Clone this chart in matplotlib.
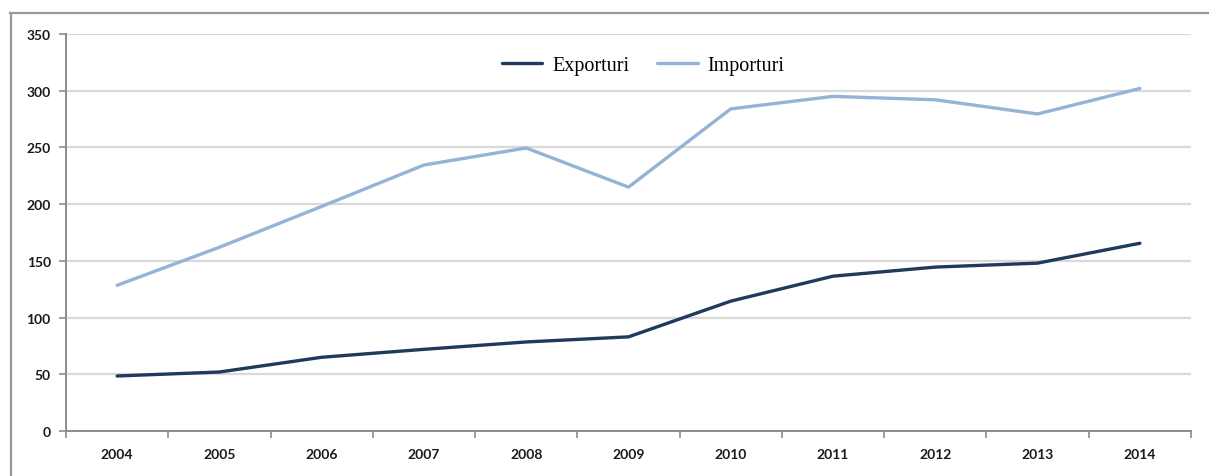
import matplotlib
matplotlib.use("Agg")
import matplotlib.pyplot as plt
from matplotlib.lines import Line2D

years = ["2004", "2005", "2006", "2007", "2008", "2009",
         "2010", "2011", "2012", "2013", "2014"]
exporturi = [48.5, 52, 65, 72, 78.5, 83, 114.5, 136.5, 144.5, 148, 165.5]
importuri = [128.5, 162, 198, 234.5, 249.5, 215, 284, 295, 292, 279.5, 302]
y_ticks = [0, 50, 100, 150, 200, 250, 300, 350]

fig = plt.figure(figsize=(12.09, 4.77), dpi=100)
ax = fig.add_axes([66 / 1209, 1 - 432 / 477, (1191 - 66) / 1209, (432 - 35) / 477])

# outer chart frame (top and left edges)
fig.add_artist(Line2D([10 / 1209, 1.0], [1 - 14 / 477] * 2, color="#9a9a9a", lw=1.6,
                      transform=fig.transFigure))
fig.add_artist(Line2D([11 / 1209] * 2, [0.0, 1 - 14 / 477], color="#9a9a9a", lw=1.6,
                      transform=fig.transFigure))

x = list(range(len(years)))
ax.plot(x, exporturi, color="#1f3a5c", lw=2.4, label="Exporturi", solid_capstyle="round")
ax.plot(x, importuri, color="#95b3d7", lw=2.4, label="Importuri", solid_capstyle="round")

ax.set_xlim(-0.5, len(years) - 0.5)
ax.set_ylim(0, 350)
ax.set_yticks(y_ticks)
ax.set_yticklabels([str(v) for v in y_ticks])
ax.set_xticks(x)
ax.set_xticklabels(years)
ax.set_xticks([i - 0.5 for i in range(len(years) + 1)], minor=True)

ax.grid(axis="y", color="#d9d9d9", lw=1.6)
ax.set_axisbelow(True)
for s in ["top", "right"]:
    ax.spines[s].set_visible(False)
for s in ["left", "bottom"]:
    ax.spines[s].set_color("#8c8c8c")
    ax.spines[s].set_linewidth(1.4)

ax.tick_params(axis="x", which="major", length=0, pad=12)
ax.tick_params(axis="x", which="minor", length=5, color="#8c8c8c", width=1.2, direction="out")
ax.tick_params(axis="y", length=5, color="#8c8c8c", width=1.2, pad=6)
for lab in ax.get_xticklabels() + ax.get_yticklabels():
    lab.set_fontfamily("Lato")
    lab.set_fontsize(10)
    lab.set_fontweight("bold")
    lab.set_color("#1a1a1a")

leg = ax.legend(loc="upper center", bbox_to_anchor=(0.513, 0.99), ncol=2, frameon=False,
                prop={"family": "Liberation Serif", "size": 14.5}, handlelength=2.0,
                columnspacing=1.4, handletextpad=0.5)

fig.savefig("out.png", dpi=100, facecolor="white")
